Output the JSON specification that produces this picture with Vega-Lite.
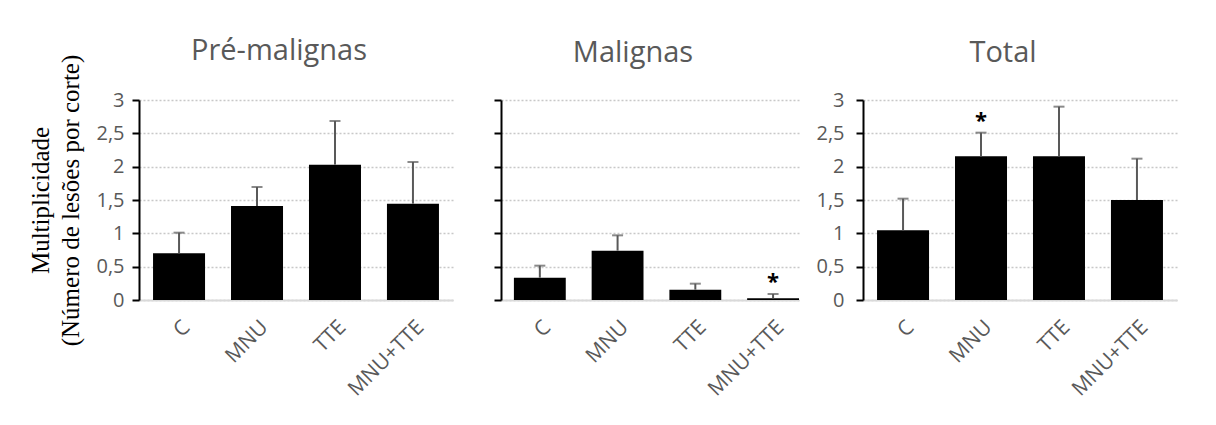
{
  "$schema": "https://vega.github.io/schema/vega-lite/v6.json",
  "padding": {"left": 28, "top": 37, "right": 5, "bottom": 5},
  "datasets": {
    "d": [
      {"panel": "Pré-malignas", "group": "C", "mean": 0.70, "upper": 1.01, "sig": ""},
      {"panel": "Pré-malignas", "group": "MNU", "mean": 1.41, "upper": 1.695, "sig": ""},
      {"panel": "Pré-malignas", "group": "TTE", "mean": 2.03, "upper": 2.685, "sig": ""},
      {"panel": "Pré-malignas", "group": "MNU+TTE", "mean": 1.445, "upper": 2.07, "sig": ""},
      {"panel": "Malignas", "group": "C", "mean": 0.335, "upper": 0.515, "sig": ""},
      {"panel": "Malignas", "group": "MNU", "mean": 0.74, "upper": 0.97, "sig": ""},
      {"panel": "Malignas", "group": "TTE", "mean": 0.155, "upper": 0.245, "sig": ""},
      {"panel": "Malignas", "group": "MNU+TTE", "mean": 0.025, "upper": 0.09, "sig": "*"},
      {"panel": "Total", "group": "C", "mean": 1.045, "upper": 1.52, "sig": ""},
      {"panel": "Total", "group": "MNU", "mean": 2.155, "upper": 2.51, "sig": "*"},
      {"panel": "Total", "group": "TTE", "mean": 2.155, "upper": 2.9, "sig": ""},
      {"panel": "Total", "group": "MNU+TTE", "mean": 1.5, "upper": 2.12, "sig": ""}
    ]
  },
  "config": {
    "view": {"stroke": null},
    "axis": {
      "labelFont": "Open Sans",
      "labelColor": "#595959"
    },
    "axisX": {
      "labelFontSize": 21, "labelAngle": -45, "ticks": false,
      "domainColor": "#d9d9d9", "domainWidth": 2, "labelPadding": 16
    },
    "axisY": {
      "labelFontSize": 20,
      "tickCount": 10,
      "labelOverlap": false,
      "domainColor": "black", "domainWidth": 2,
      "tickColor": "black", "tickWidth": 2, "tickSize": 7,
      "gridColor": "#c8c8c8", "gridDash": [2, 2], "gridWidth": 1.5
    },
    "title": {
      "font": "Open Sans",
      "fontSize": 29,
      "fontWeight": "normal",
      "color": "#595959",
      "anchor": "middle",
      "frame": "group",
      "baseline": "alphabetic",
      "dx": -17
    }
  },
  "spacing": 16,
  "hconcat": [
    {
      "spacing": 40,
      "hconcat": [
        {
          "title": {"text": "Pré-malignas", "offset": -12},
          "width": 314,
          "height": 200,
          "data": {"name": "d"},
          "transform": [{"filter": "datum.panel == 'Pré-malignas'"}],
          "encoding": {
            "x": {
              "field": "group", "type": "nominal",
              "sort": ["C", "MNU", "TTE", "MNU+TTE"],
              "scale": {"paddingInner": 0.333, "paddingOuter": 0.18},
              "axis": {"title": null}
            }
          },
          "layer": [
            {
              "mark": {"type": "bar", "color": "black"},
              "encoding": {
                "y": {
                  "field": "mean", "type": "quantitative",
                  "scale": {"domain": [0, 3], "nice": false},
                  "axis": {
                    "values": [0, 0.5, 1, 1.5, 2, 2.5, 3],
                    "tickCount": 10,
                    "format": "~g",
                    "labelExpr": "replace(datum.label, '.', ',')",
                    "labelPadding": 8,
                    "title": ["Multiplicidade", "(Número de lesões por corte)"],
                    "titleFont": "Liberation Serif", "titleFontSize": 25, "titleFontWeight": "normal",
                    "titleColor": "black", "titleLineHeight": 30, "titlePadding": 12
                  }
                }
              }
            },
            {
              "mark": {"type": "rule", "color": "#595959", "strokeWidth": 2},
              "encoding": {"y": {"field": "mean", "type": "quantitative"}, "y2": {"field": "upper"}}
            },
            {
              "mark": {"type": "tick", "color": "#595959", "thickness": 2, "size": 11},
              "encoding": {"y": {"field": "upper", "type": "quantitative"}}
            }
          ]
        },
        {
          "title": {"text": "Malignas", "offset": 31},
          "width": 298,
          "height": 200,
          "data": {"name": "d"},
          "transform": [{"filter": "datum.panel == 'Malignas'"}],
          "encoding": {
            "x": {
              "field": "group", "type": "nominal",
              "sort": ["C", "MNU", "TTE", "MNU+TTE"],
              "scale": {"paddingInner": 0.333, "paddingOuter": 0.083, "align": 1},
              "axis": {"title": null}
            }
          },
          "layer": [
            {
              "mark": {"type": "bar", "color": "black"},
              "encoding": {
                "y": {
                  "field": "mean", "type": "quantitative",
                  "scale": {"domain": [0, 3], "nice": false},
                  "axis": {
                    "values": [0, 0.5, 1, 1.5, 2, 2.5, 3],
                    "tickCount": 10,
                    "labels": false,
                    "title": null
                  }
                }
              }
            },
            {
              "mark": {"type": "rule", "color": "#595959", "strokeWidth": 2},
              "encoding": {"y": {"field": "mean", "type": "quantitative"}, "y2": {"field": "upper"}}
            },
            {
              "mark": {"type": "tick", "color": "#595959", "thickness": 2, "size": 11},
              "encoding": {"y": {"field": "upper", "type": "quantitative"}}
            },
            {
              "mark": {"type": "text", "font": "Open Sans", "fontSize": 22, "fontWeight": "bold", "color": "black", "baseline": "alphabetic", "dy": -5},
              "encoding": {"y": {"field": "upper", "type": "quantitative"}, "text": {"field": "sig"}}
            }
          ]
        }
      ]
    },
    {
      "title": {"text": "Total", "offset": 16},
      "width": 314,
      "height": 200,
      "data": {"name": "d"},
      "transform": [{"filter": "datum.panel == 'Total'"}],
      "encoding": {
        "x": {
          "field": "group", "type": "nominal",
          "sort": ["C", "MNU", "TTE", "MNU+TTE"],
          "scale": {"paddingInner": 0.333, "paddingOuter": 0.18},
          "axis": {"title": null}
        }
      },
      "layer": [
        {
          "mark": {"type": "bar", "color": "black"},
          "encoding": {
            "y": {
              "field": "mean", "type": "quantitative",
              "scale": {"domain": [0, 3], "nice": false},
              "axis": {
                "values": [0, 0.5, 1, 1.5, 2, 2.5, 3],
                "tickCount": 10,
                "format": "~g",
                "labelExpr": "replace(datum.label, '.', ',')",
                "labelPadding": 12,
                "title": null
              }
            }
          }
        },
        {
          "mark": {"type": "rule", "color": "#595959", "strokeWidth": 2},
          "encoding": {"y": {"field": "mean", "type": "quantitative"}, "y2": {"field": "upper"}}
        },
        {
          "mark": {"type": "tick", "color": "#595959", "thickness": 2, "size": 11},
          "encoding": {"y": {"field": "upper", "type": "quantitative"}}
        },
        {
          "mark": {"type": "text", "font": "Open Sans", "fontSize": 22, "fontWeight": "bold", "color": "black", "baseline": "alphabetic", "dy": -5},
          "encoding": {"y": {"field": "upper", "type": "quantitative"}, "text": {"field": "sig"}}
        }
      ]
    }
  ]
}
